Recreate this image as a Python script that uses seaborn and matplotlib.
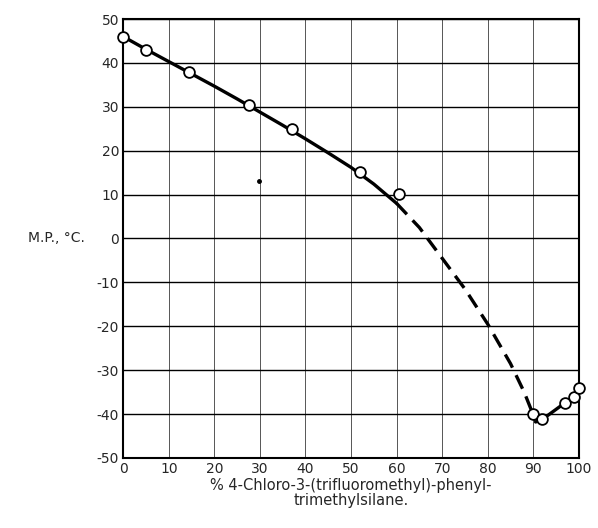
import pandas as pd
import matplotlib
matplotlib.use("Agg")
import matplotlib.pyplot as plt
import seaborn as sns

# measured points
pct = [0, 5, 14.5, 27.7, 37, 52, 60.5, 90, 92, 97, 98.9, 100]
mp = [46, 42.9, 38, 30.3, 24.9, 15.1, 10.2, -40, -41.2, -37.4, -36, -34.1]

# drawn curve
solid_x = [0, 5, 10, 15, 20, 25, 30, 35, 40, 45, 50, 55, 60]
solid_y = [46, 43.1, 40.3, 37.5, 34.7, 31.8, 28.8, 25.8, 22.7, 19.5, 16.2, 12.4, 8]
dash_x = [60, 65, 70, 75, 80, 85, 88, 90.5]
dash_y = [8, 2.5, -4.5, -11.5, -19.5, -28.5, -35, -41.5]
tail_x = [90.5, 92, 97, 98.9, 100]
tail_y = [-41.8, -41.2, -37.4, -36, -34.1]

x_ticks = list(range(0, 101, 10))
y_ticks = list(range(-50, 51, 10))

sns.set_style("white")
plt.rcParams['font.family'] = ['DejaVu Sans']

fig = plt.figure(figsize=(5.98, 5.28), dpi=100)
ax = fig.add_axes([0.206, 0.1326, 0.762, 0.8314])

for x in x_ticks:
    ax.axvline(x, color="#555555", lw=0.7, zorder=1)
for y in y_ticks:
    ax.axhline(y, color="black", lw=1.0, zorder=1)

sns.lineplot(x=solid_x, y=solid_y, color="black", lw=2.4, ax=ax, zorder=2)
sns.lineplot(x=dash_x, y=dash_y, color="black", lw=2.4, ax=ax, zorder=2,
             dashes=False, linestyle=(0, (4.5, 2.5)))
sns.lineplot(x=tail_x, y=tail_y, color="black", lw=2.4, ax=ax, zorder=2)
sns.scatterplot(x=pct, y=mp, s=60, color="white", edgecolor="black",
                linewidth=1.3, ax=ax, zorder=3, clip_on=False)
ax.plot([29.8], [13], marker="o", ms=2.5, color="black", zorder=2)

ax.set_xlim(0, 100)
ax.set_ylim(-50, 50)
ax.set_xticks(x_ticks)
ax.set_yticks(y_ticks)
ax.set_yticklabels([str(v) if v >= 0 else "-" + str(-v) for v in y_ticks])
ax.tick_params(length=0, labelsize=10, pad=3)
for s in ax.spines.values():
    s.set_color("black")
    s.set_linewidth(1.5)

ax.set_xlabel("% 4-Chloro-3-(trifluoromethyl)-phenyl-\ntrimethylsilane.",
              fontsize=10.5, labelpad=1, linespacing=1.0)
ax.set_ylabel("M.P., °C.", fontsize=10, rotation=0, ha="right", va="center")
ax.yaxis.set_label_coords(-0.085, 0.5)

fig.savefig("out.png", dpi=100)
